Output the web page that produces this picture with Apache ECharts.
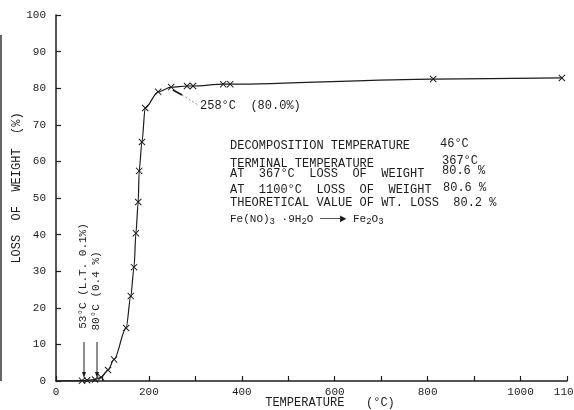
<!DOCTYPE html>
<html>
<head>
<meta charset="utf-8">
<script src="https://cdn.jsdelivr.net/npm/echarts@6.0.0/dist/echarts.min.js"></script>
<style>
  html, body { margin: 0; padding: 0; background: #fff; }
  #main { width: 574px; height: 410px; }
</style>
</head>
<body>
<div id="main"></div>
<script>
// temperature (°C) and loss of weight (%)
var temps = [0, 56, 67, 84, 97, 112, 125, 151, 161, 168, 172, 177, 179, 185, 192, 220, 248, 282, 295, 360, 375, 812, 1089];
var loss  = [0, 0.1, 0.2, 0.4, 1.0, 3.0, 5.9, 14.5, 23.2, 31.1, 40.4, 48.9, 57.4, 65.3, 74.6, 79.0, 80.3, 80.6, 80.6, 81.1, 81.1, 82.5, 82.8];
var xLabels = [0, 200, 400, 600, 800, 1000, 1100];

var ink = '#1c1c1c';
var mono = 'Liberation Mono';
var cross = 'path://M0,1L1,0L5,4L9,0L10,1L6,5L10,9L9,10L5,6L1,10L0,9L4,5Z';

var points = temps.map(function (t, i) {
    var p = { value: [t, loss[i]] };
    if (i === 0) p.symbol = 'none';
    return p;
});

function txt(x, y, s, opts) {
    opts = opts || {};
    var st = {
        text: s, x: 0, y: 0, fill: ink,
        fontFamily: mono, fontSize: opts.size || 12,
        align: opts.align || 'left', verticalAlign: 'middle'
    };
    if (opts.rich) st.rich = opts.rich;
    return { type: 'text', x: x, y: y, rotation: opts.rot || 0, style: st, z: 10 };
}

function arrow(x, y1, y2) {
    return [
        { type: 'line', shape: { x1: x, y1: y1, x2: x, y2: y2 - 3 }, style: { stroke: ink, lineWidth: 1 } },
        { type: 'polygon', shape: { points: [[x - 2, y2 - 6], [x + 2, y2 - 6], [x, y2]] }, style: { fill: ink } }
    ];
}

var chart = echarts.init(document.getElementById('main'));

chart.setOption({
    backgroundColor: '#fff',
    animation: false,
    grid: { left: 56, right: 7, top: 15, bottom: 29, containLabel: false, outerBoundsMode: 'none' },
    xAxis: {
        type: 'value',
        min: 0, max: 1100, interval: 100,
        axisLine: { lineStyle: { color: ink, width: 1.5 } },
        axisTick: { inside: true, length: 5, lineStyle: { color: ink, width: 1.2 } },
        splitLine: { show: false },
        axisLabel: {
            margin: 6, color: ink, fontFamily: mono, fontSize: 11,
            alignMinLabel: 'center', alignMaxLabel: 'center',
            formatter: function (v) { return xLabels.indexOf(v) >= 0 ? String(v) : ''; }
        }
    },
    yAxis: {
        type: 'value',
        min: 0, max: 100, interval: 10,
        axisLine: { show: true, lineStyle: { color: ink, width: 1.5 } },
        axisTick: { show: true, inside: true, length: 5, lineStyle: { color: ink, width: 1.2 } },
        splitLine: { show: false },
        axisLabel: { margin: 10, color: ink, fontFamily: mono, fontSize: 11 }
    },
    series: [{
        type: 'line',
        data: points,
        smooth: 0.3,
        smoothMonotone: 'x',
        symbol: cross,
        symbolSize: 7,
        itemStyle: { color: ink },
        lineStyle: { color: ink, width: 1.2 }
    }],
    graphic: [
        // scan edge
        { type: 'line', shape: { x1: 1, y1: 35, x2: 1, y2: 381 }, style: { stroke: '#333', lineWidth: 1.5 } },
        // axis titles
        txt(17, 188, 'LOSS  OF  WEIGHT  (%)', { align: 'center', rot: Math.PI / 2 }),
        txt(330, 403, 'TEMPERATURE   (°C)', { align: 'center' }),
        // 53 / 80 °C notes
        txt(83, 276, '53°C (L.T. 0.1%)', { align: 'center', size: 11, rot: Math.PI / 2 }),
        txt(96, 291, '80°C (0.4 %)', { align: 'center', size: 11, rot: Math.PI / 2 }),
        // 258 °C note
        { type: 'line', shape: { x1: 173, y1: 90, x2: 182, y2: 95 }, style: { stroke: ink, lineWidth: 2 } },
        { type: 'line', shape: { x1: 182, y1: 95, x2: 198, y2: 105 }, style: { stroke: '#777', lineWidth: 0.8, lineDash: [2, 2] } },
        txt(200, 106, '258°C  (80.0%)'),
        // info block
        txt(230, 146, 'DECOMPOSITION TEMPERATURE'),
        txt(440, 144, '46°C'),
        txt(230, 164, 'TERMINAL TEMPERATURE'),
        txt(442, 161, '367°C'),
        txt(230, 174, 'AT  367°C  LOSS  OF  WEIGHT'),
        txt(442, 171, '80.6 %'),
        txt(230, 190, 'AT  1100°C  LOSS  OF  WEIGHT'),
        txt(443, 188, '80.6 %'),
        txt(230, 203, 'THEORETICAL VALUE OF WT. LOSS  80.2 %'),
        txt(230, 219, 'Fe(NO){s|3} ·9H{s|2}O ───► Fe{s|2}O{s|3}', {
            size: 11,
            rich: { s: { fontSize: 9, fontFamily: mono, fill: ink, padding: [6, 0, 0, 0] } }
        })
    ].concat(arrow(84, 342, 378), arrow(97, 342, 378))
});
</script>
</body>
</html>
